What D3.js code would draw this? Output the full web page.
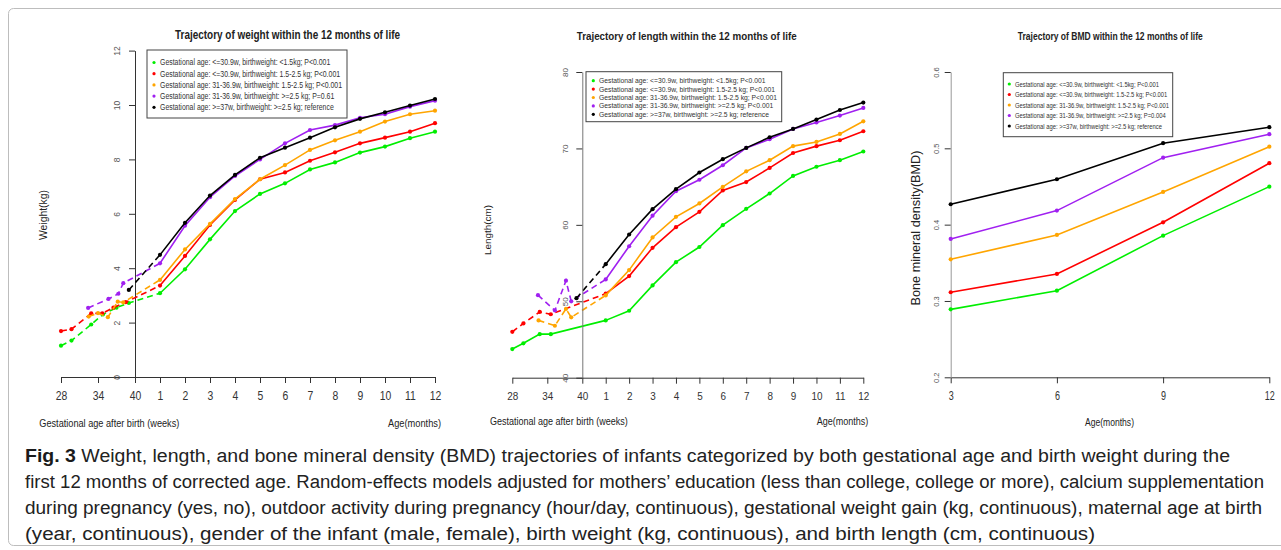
<!DOCTYPE html>
<html>
<head>
<meta charset="utf-8">
<script src="https://cdn.jsdelivr.net/npm/d3@7"></script>
<style>
body { margin: 0; background: #fff; }
text { font-family: "Liberation Sans", Arial, sans-serif; }
text.cap { font-family: "Liberation Sans Narrow", "Arial Narrow", "Liberation Sans", Arial, sans-serif; }
</style>
</head>
<body>
<svg class="chart"></svg>
<script>
var width = 1281,
    height = 550;

// ---- data ----
var colors = ["#00ee00", "#ff0000", "#ffa500", "#a020f0", "#000000"];
var months = [1, 2, 3, 4, 5, 6, 7, 8, 9, 10, 11, 12];
var weekTicks = [28, 34, 40];
var bmdMonths = [3, 6, 9, 12];

var weightTicks = [0, 2, 4, 6, 8, 10, 12];
var lengthTicks = [40, 50, 60, 70, 80];
var bmdTicks = [0.2, 0.3, 0.4, 0.5, 0.6];

var weightLegend = [
  "Gestational age: <=30.9w, birthweight: <1.5kg; P<0.001",
  "Gestational age: <=30.9w, birthweight: 1.5-2.5 kg; P<0.001",
  "Gestational age: 31-36.9w, birthweight: 1.5-2.5 kg; P<0.001",
  "Gestational age: 31-36.9w, birthweight: >=2.5 kg; P=0.61",
  "Gestational age: >=37w, birthweight: >=2.5 kg; reference"
];
var lengthLegend = [
  "Gestational age: <=30.9w, birthweight: <1.5kg; P<0.001",
  "Gestational age: <=30.9w, birthweight: 1.5-2.5 kg; P<0.001",
  "Gestational age: 31-36.9w, birthweight: 1.5-2.5 kg; P<0.001",
  "Gestational age: 31-36.9w, birthweight: >=2.5 kg; P<0.001",
  "Gestational age: >=37w, birthweight: >=2.5 kg; reference"
];
var bmdLegend = [
  "Gestational age: <=30.9w, birthweight: <1.5kg; P<0.001",
  "Gestational age: <=30.9w, birthweight: 1.5-2.5 kg; P<0.001",
  "Gestational age: 31-36.9w, birthweight: 1.5-2.5 kg; P<0.001",
  "Gestational age: 31-36.9w, birthweight: >=2.5 kg; P=0.004",
  "Gestational age: >=37w, birthweight: >=2.5 kg; reference"
];

// weight (kg): weeks before term, then months 1-12
var weightWeeksGreen = [28, 29.7, 32.9, 34.8, 37, 39];
var weightPreGreen = [1.15, 1.34, 1.93, 2.30, 2.55, 2.72];
var weightWeeksRed = [28, 29.7, 32.9, 34.7, 36.5, 38.5];
var weightPreRed = [1.69, 1.76, 2.34, 2.34, 2.55, 2.75];
var weightWeeksOrange = [32.5, 34, 35.6, 37.2, 38.1];
var weightPreOrange = [2.22, 2.35, 2.20, 2.77, 2.74];
var weightWeeksPurple = [32.4, 35.7, 37.3, 38.1];
var weightPrePurple = [2.54, 2.87, 3.06, 3.45];
var weightWeeksBlack = [39];
var weightPreBlack = [3.2];

var weightGreen = [3.08, 3.96, 5.06, 6.10, 6.73, 7.12, 7.63, 7.89, 8.25, 8.47, 8.78, 9.02];
var weightRed = [3.36, 4.45, 5.59, 6.51, 7.27, 7.52, 7.95, 8.26, 8.59, 8.80, 9.02, 9.33];
var weightOrange = [3.57, 4.69, 5.63, 6.54, 7.27, 7.79, 8.35, 8.70, 9.02, 9.39, 9.66, 9.79];
var weightPurple = [4.18, 5.56, 6.61, 7.39, 8.00, 8.59, 9.08, 9.26, 9.53, 9.66, 9.94, 10.16];
var weightBlack = [4.49, 5.67, 6.67, 7.43, 8.06, 8.43, 8.80, 9.18, 9.49, 9.73, 9.98, 10.22];

// length (cm)
var lengthWeeksGreen = [28, 29.9, 32.7, 34.6];
var lengthPreGreen = [43.75, 44.5, 45.7, 45.7];
var lengthWeeksRed = [28, 29.9, 32.7, 34.6];
var lengthPreRed = [46.0, 47.1, 48.6, 48.3];
var lengthWeeksOrange = [32.5, 35.3, 37.2, 38.1];
var lengthPreOrange = [47.5, 46.8, 49.0, 47.9];
var lengthWeeksPurple = [32.4, 35.3, 37.2, 38.1];
var lengthPrePurple = [50.8, 48.8, 52.7, 50.0];
var lengthWeeksBlack = [39];
var lengthPreBlack = [50.4];

var lengthGreen = [47.5, 48.76, 52.08, 55.12, 57.1, 59.96, 62.1, 64.1, 66.4, 67.6, 68.46, 69.6];
var lengthRed = [51.0, 53.3, 57.0, 59.7, 61.7, 64.5, 65.6, 67.45, 69.4, 70.3, 71.07, 72.25];
var lengthOrange = [50.77, 54.08, 58.35, 61.05, 62.8, 64.97, 67.0, 68.46, 70.3, 70.85, 71.9, 73.55];
var lengthPurple = [52.86, 57.2, 61.2, 64.4, 65.9, 67.8, 70.07, 71.2, 72.55, 73.4, 74.3, 75.3];
var lengthBlack = [54.86, 58.74, 62.05, 64.67, 66.85, 68.59, 70.07, 71.46, 72.55, 73.77, 75.03, 76.0];

// BMD at 3, 6, 9, 12 months
var bmdGreen = [0.289, 0.3135, 0.3856, 0.4498];
var bmdRed = [0.3114, 0.3354, 0.4031, 0.4805];
var bmdOrange = [0.3546, 0.3865, 0.4429, 0.5022];
var bmdPurple = [0.3813, 0.4184, 0.4878, 0.5185];
var bmdBlack = [0.4267, 0.4595, 0.5067, 0.5277];

var captionLines = [
  "Weight, length, and bone mineral density (BMD) trajectories of infants categorized by both gestational age and birth weight during the",
  "first 12 months of corrected age. Random-effects models adjusted for mothers\u2019 education (less than college, college or more), calcium supplementation",
  "during pregnancy (yes, no), outdoor activity during pregnancy (hour/day, continuous), gestational weight gain (kg, continuous), maternal age at birth",
  "(year, continuous), gender of the infant (male, female), birth weight (kg, continuous), and birth length (cm, continuous)"
];

// ---- drawing ----
var chart = d3.select(".chart")
    .attr("width", width)
    .attr("height", height);

chart.append("rect")
    .attr("x", 8.5).attr("y", 8.5)
    .attr("width", 1300).attr("height", 537)
    .attr("rx", 5)
    .attr("fill", "none")
    .attr("stroke", "#bdbdbd");

function fit(sel, w) {
  sel.attr("textLength", w).attr("lengthAdjust", "spacingAndGlyphs");
}

function squeeze(sel, k) {
  sel.each(function() {
    var w = this.getComputedTextLength();
    d3.select(this).attr("textLength", w * k).attr("lengthAdjust", "spacingAndGlyphs");
  });
}

function label(txt, x, y, size, anchor, w, rot) {
  var t = chart.append("text")
      .attr("transform", "translate(" + x + "," + y + ")" + (rot ? " rotate(-90)" : ""))
      .attr("text-anchor", anchor)
      .attr("font-size", size)
      .attr("fill", "#222")
      .text(txt);
  if (w) fit(t, w);
  return t;
}

function legend(items, box, rowY, step, dotX, textX, size, longest) {
  chart.append("rect")
      .attr("x", box[0]).attr("y", box[1])
      .attr("width", box[2]).attr("height", box[3])
      .attr("fill", "#fff")
      .attr("stroke", "#444")
      .attr("stroke-width", 1);
  var row = chart.selectAll(null)
      .data(items)
    .enter().append("g")
      .attr("transform", function(d, i) { return "translate(0," + (rowY + i * step) + ")"; });
  row.append("circle")
      .attr("cx", dotX).attr("r", 1.6)
      .attr("fill", function(d, i) { return colors[i]; });
  var t = row.append("text")
      .attr("x", textX).attr("dy", "0.35em")
      .attr("font-size", size)
      .attr("fill", "#333")
      .text(function(d) { return d; });
  var max = d3.max(t.nodes(), function(n) { return n.getComputedTextLength(); });
  squeeze(t, longest / max);
}

function yAxis(y, ticks, x, off, size, color, fmt) {
  var g = chart.append("g")
      .attr("transform", "translate(" + x + ",0)")
      .call(d3.axisLeft(y).tickValues(ticks).tickSize(6).tickSizeOuter(0).tickFormat(fmt || d3.format("")));
  g.select(".domain").attr("stroke", color);
  g.selectAll(".tick line").attr("stroke", "#333");
  g.selectAll(".tick text")
      .attr("x", null).attr("dy", null)
      .attr("transform", "translate(" + (-off) + ",0) rotate(-90)")
      .attr("text-anchor", "middle")
      .attr("font-size", size)
      .attr("font-family", null)
      .attr("fill", "#555");
  return g;
}

function xAxis(scale, ticks, y, pad, size, k) {
  var g = chart.append("g")
      .attr("transform", "translate(0," + y + ")")
      .call(d3.axisBottom(scale).tickValues(ticks).tickSize(6).tickSizeOuter(0).tickPadding(pad));
  g.select(".domain").attr("stroke", "#333");
  g.selectAll(".tick line").attr("stroke", "#333");
  var t = g.selectAll(".tick text")
      .attr("font-size", size)
      .attr("font-family", null)
      .attr("fill", "#333");
  squeeze(t, k);
  return g;
}

function series(xw, xm, y, weeks, pre, post, color, dashed) {
  var line = d3.line();
  var a = weeks.map(function(w, i) { return [xw(w), y(pre[i])]; });
  var b = months.map(function(m, i) { return [xm(m), y(post[i])]; });
  var g = chart.append("g");
  g.append("path")
      .attr("d", line(a.concat([b[0]])))
      .attr("fill", "none")
      .attr("stroke", color)
      .attr("stroke-width", 1.6)
      .attr("stroke-dasharray", dashed ? "6,4" : null);
  g.append("path")
      .attr("d", line(b))
      .attr("fill", "none")
      .attr("stroke", color)
      .attr("stroke-width", 1.6);
  g.selectAll("circle")
      .data(a.concat(b))
    .enter().append("circle")
      .attr("cx", function(d) { return d[0]; })
      .attr("cy", function(d) { return d[1]; })
      .attr("r", 2.1)
      .attr("fill", color);
}

// ---- panel 1: weight ----
var wxW = d3.scaleLinear().domain([28, 40]).range([61, 135]);
var wxM = d3.scaleLinear().domain([0, 12]).range([135, 435]);
var wy = d3.scaleLinear().domain([0, 12]).range([377, 50.6]);

xAxis(wxW, weekTicks, 377, 8, 13, 0.8);
xAxis(wxM, months, 377, 8, 13, 0.8);
yAxis(wy, weightTicks, 135, 15, 8.5, "#333");

series(wxW, wxM, wy, weightWeeksGreen, weightPreGreen, weightGreen, colors[0], true);
series(wxW, wxM, wy, weightWeeksRed, weightPreRed, weightRed, colors[1], true);
series(wxW, wxM, wy, weightWeeksOrange, weightPreOrange, weightOrange, colors[2], true);
series(wxW, wxM, wy, weightWeeksPurple, weightPrePurple, weightPurple, colors[3], true);
series(wxW, wxM, wy, weightWeeksBlack, weightPreBlack, weightBlack, colors[4], true);

legend(weightLegend, [147, 50, 200, 68], 62.5, 11.2, 154, 160, 8.5, 182);
label("Trajectory of weight within the 12 months of life", 287.5, 38.5, 12.5, "middle", 225).attr("font-weight", "bold");
label("Weight(kg)", 47, 215, 10, "middle", 50, true);
label("Gestational age after birth (weeks)", 39.3, 426.5, 11, "start", 140);
label("Age(months)", 441, 426.5, 11, "end", 53);

// ---- panel 2: length ----
var lxW = d3.scaleLinear().domain([28, 40]).range([512.3, 582.3]);
var lxM = d3.scaleLinear().domain([0, 12]).range([582.3, 863.3]);
var ly = d3.scaleLinear().domain([40, 80]).range([377.7, 72]);

xAxis(lxW, weekTicks, 377.7, 9, 11, 0.9);
xAxis(lxM, months, 377.7, 9, 11, 0.9);

series(lxW, lxM, ly, lengthWeeksGreen, lengthPreGreen, lengthGreen, colors[0], false);
series(lxW, lxM, ly, lengthWeeksRed, lengthPreRed, lengthRed, colors[1], true);
series(lxW, lxM, ly, lengthWeeksOrange, lengthPreOrange, lengthOrange, colors[2], true);
series(lxW, lxM, ly, lengthWeeksPurple, lengthPrePurple, lengthPurple, colors[3], true);
series(lxW, lxM, ly, lengthWeeksBlack, lengthPreBlack, lengthBlack, colors[4], true);

yAxis(ly, lengthTicks, 582.3, 14.5, 8, "#777");

legend(lengthLegend, [586, 71.7, 195.7, 50], 80.7, 8.4, 593.3, 599, 7, 178);
label("Trajectory of length within the 12 months of life", 686.7, 39.5, 10.5, "middle", 220).attr("font-weight", "bold");
label("Length(cm)", 490.5, 230, 9, "middle", 50, true);
label("Gestational age after birth (weeks)", 490, 424.5, 10.5, "start", 137.7);
label("Age(months)", 868.3, 424.5, 10.5, "end", 51.6);

// ---- panel 3: BMD ----
var bx = d3.scaleLinear().domain([3, 12]).range([950.7, 1269.3]);
var by = d3.scaleLinear().domain([0.2, 0.6]).range([377.3, 72]);

xAxis(bx, bmdMonths, 377.3, 8, 12.5, 0.72);
yAxis(by, bmdTicks, 950.7, 12, 7.5, "#999", d3.format(".1f"));

[bmdGreen, bmdRed, bmdOrange, bmdPurple, bmdBlack].forEach(function(vals, s) {
  var pts = bmdMonths.map(function(m, i) { return [bx(m), by(vals[i])]; });
  chart.append("path")
      .attr("d", d3.line()(pts))
      .attr("fill", "none")
      .attr("stroke", colors[s])
      .attr("stroke-width", 1.6);
  chart.append("g").selectAll("circle")
      .data(pts)
    .enter().append("circle")
      .attr("cx", function(d) { return d[0]; })
      .attr("cy", function(d) { return d[1]; })
      .attr("r", 2.1)
      .attr("fill", colors[s]);
});

legend(bmdLegend, [1003.3, 72.7, 169.4, 64], 84, 10.5, 1009.3, 1015, 7.5, 154);
label("Trajectory of BMD within the 12 months of life", 1110.3, 40, 11.5, "middle", 185).attr("font-weight", "bold");
label("Bone mineral density(BMD)", 919.5, 228, 12.5, "middle", 155, true);
label("Age(months)", 1109.5, 425.5, 11, "middle", 49);

// ---- caption ----
var capEnds = [1230, 1264, 1262, 1095];
var cap = chart.selectAll(".cap")
    .data(captionLines)
  .enter().append("text")
    .attr("class", "cap")
    .attr("x", 25)
    .attr("y", function(d, i) { return 462 + i * 26; })
    .attr("font-size", 18)
    .attr("fill", "#222")
    .attr("textLength", function(d, i) { return capEnds[i] - 25; })
    .attr("lengthAdjust", "spacingAndGlyphs");
cap.filter(function(d, i) { return i === 0; })
  .append("tspan")
    .attr("font-weight", "bold")
    .attr("fill", "#1a1a1a")
    .text("Fig. 3 ");
cap.append("tspan").text(function(d) { return d; });
</script>
</body>
</html>
